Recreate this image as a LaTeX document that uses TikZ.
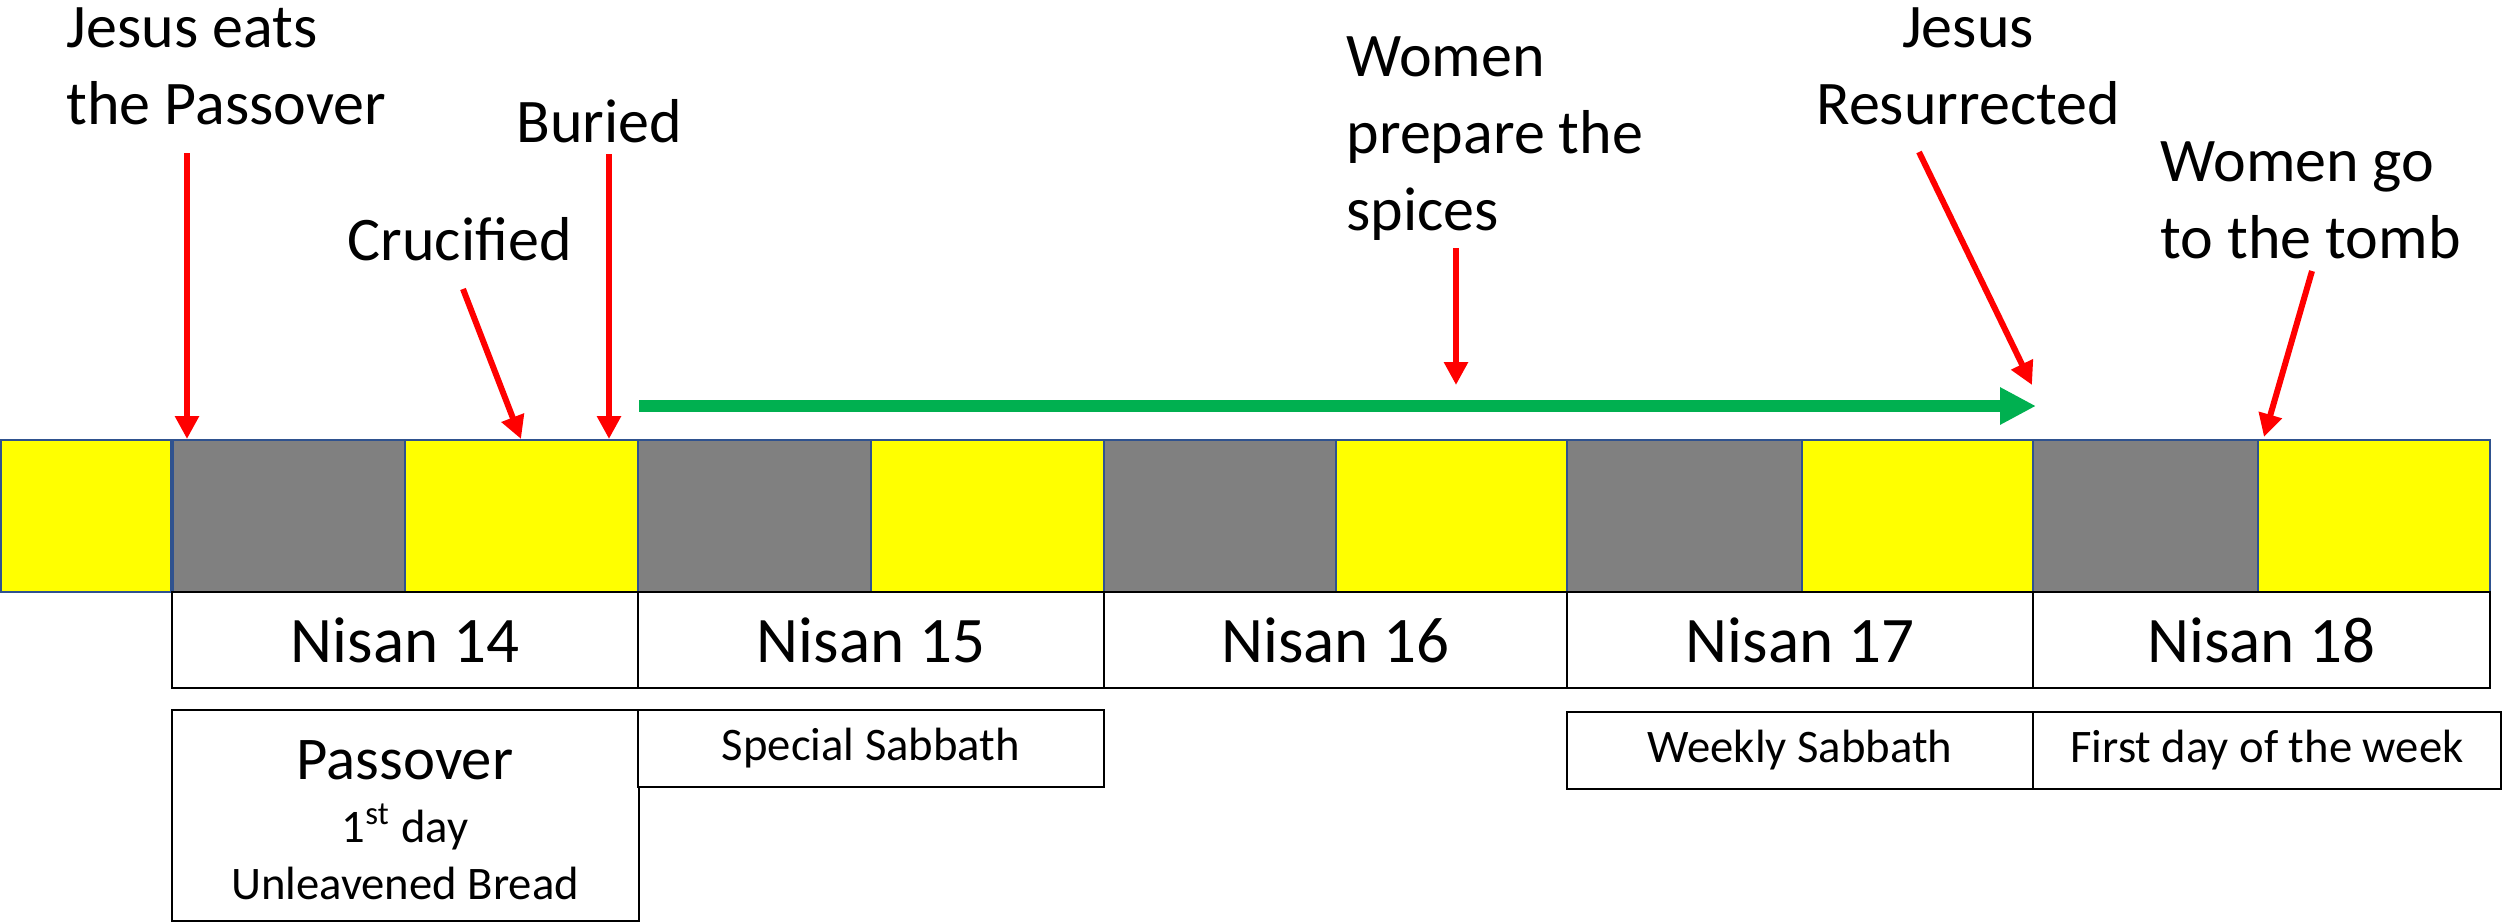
\documentclass[tikz,border=0pt]{standalone}
\usepackage{fontspec}
\setmainfont{Carlito}
\usetikzlibrary{arrows.meta}
\definecolor{dayyellow}{HTML}{FFFF00}
\definecolor{nightgray}{HTML}{808080}
\definecolor{cellline}{HTML}{2F528F}
\definecolor{evred}{HTML}{FF0000}
\definecolor{evgreen}{HTML}{00B050}
\newcommand\rbox[7]{\node[#2, anchor=north west, minimum width={(#5-#3)*0.3pt}, minimum height={(#6-#4)*0.3pt}] (#1) at (#3,#4) {#7};}
\begin{document}
\begin{tikzpicture}[x=0.3pt,y=-0.3pt,
  cell/.style={draw=cellline, line width=0.6pt, inner sep=0pt, outer sep=0pt},
  day/.style={cell, fill=dayyellow},
  night/.style={cell, fill=nightgray},
  daybox/.style={draw=black, line width=0.8pt, fill=white, inner sep=0pt, outer sep=0pt, font=\fontsize{19.5}{23}\selectfont},
  notebox/.style={daybox, font=\fontsize{14}{17}\selectfont},
  passtext/.style={anchor=base, inner sep=0pt, font=\fontsize{14}{17}\selectfont},
  evlabel/.style={inner sep=0pt, align=left, font=\fontsize{18.6}{23.1}\selectfont},
  evarrow/.style={draw=evred, line width=1.8pt, -{Triangle[width=6.9pt,length=6.9pt]}},
  spanarrow/.style={draw=evgreen, line width=3.6pt, -{Triangle[width=10.5pt,length=10.8pt]}}
]
\useasboundingbox (0,0) rectangle (2506,923);
% day / night cells
\rbox{c0}{day}{1}{440}{171}{592}{}
\rbox{c1}{night}{173}{440}{405}{592}{}
\rbox{c2}{day}{405}{440}{638}{592}{}
\rbox{c3}{night}{638}{440}{871}{592}{}
\rbox{c4}{day}{871}{440}{1104}{592}{}
\rbox{c5}{night}{1104}{440}{1336}{592}{}
\rbox{c6}{day}{1336}{440}{1567}{592}{}
\rbox{c7}{night}{1567}{440}{1802}{592}{}
\rbox{c8}{day}{1802}{440}{2033}{592}{}
\rbox{c9}{night}{2033}{440}{2258}{592}{}
\rbox{c10}{day}{2258}{440}{2490}{592}{}
% date boxes
\rbox{n14}{daybox}{172}{592}{638}{688}{Nisan 14}
\rbox{n15}{daybox}{638}{592}{1104}{688}{Nisan 15}
\rbox{n16}{daybox}{1104}{592}{1567}{688}{Nisan 16}
\rbox{n17}{daybox}{1567}{592}{2033}{688}{Nisan 17}
\rbox{n18}{daybox}{2033}{592}{2490}{688}{Nisan 18}
% note boxes
\rbox{pass}{daybox}{172}{710}{639}{921}{}
\rbox{spec}{notebox}{638}{710}{1104}{787}{Special Sabbath}
\rbox{week}{notebox}{1567}{712}{2033}{789}{Weekly Sabbath}
\rbox{first}{notebox}{2033}{712}{2501}{789}{First day of the week}
\node[passtext, font=\fontsize{18.2}{22}\selectfont] (passT) at (405,779) {Passover};
\node[passtext] (passD) at (405,842) {1\textsuperscript{st} day};
\node[passtext] (passU) at (405,899) {Unleavened Bread};
% event labels (base anchor = baseline of the last line)
\node[evlabel, anchor=base west] (eat) at (66,124) {Jesus eats\\the Passover};
\node[evlabel, anchor=base west] (cru) at (347,260) {Crucified};
\node[evlabel, anchor=base west] (bur) at (516,142) {Buried};
\node[evlabel, anchor=base west] (spi) at (1346,230) {Women\\prepare the\\spices};
\node[evlabel, align=center, anchor=base] (res) at (1968,124) {Jesus\\Resurrected};
\node[evlabel, anchor=base west] (tom) at (2160,258) {Women go\\to the tomb};
% arrow end points
\coordinate (eatS) at (187,153);  \coordinate (eatE) at (187,439);
\coordinate (cruS) at (463,289);  \coordinate (cruE) at (521,439);
\coordinate (burS) at (609,154);  \coordinate (burE) at (609,439);
\coordinate (spiS) at (1456,248); \coordinate (spiE) at (1456,385);
\coordinate (resS) at (1919,152); \coordinate (resE) at (2032,385);
\coordinate (tomS) at (2312,271); \coordinate (tomE) at (2264,437);
\coordinate (grS) at (639,406);   \coordinate (grE) at (2036,406);
\draw[evarrow] (eatS) -- (eatE);
\draw[evarrow] (cruS) -- (cruE);
\draw[evarrow] (burS) -- (burE);
\draw[evarrow] (spiS) -- (spiE);
\draw[evarrow] (resS) -- (resE);
\draw[evarrow] (tomS) -- (tomE);
\draw[spanarrow] (grS) -- (grE);
\end{tikzpicture}
\end{document}
